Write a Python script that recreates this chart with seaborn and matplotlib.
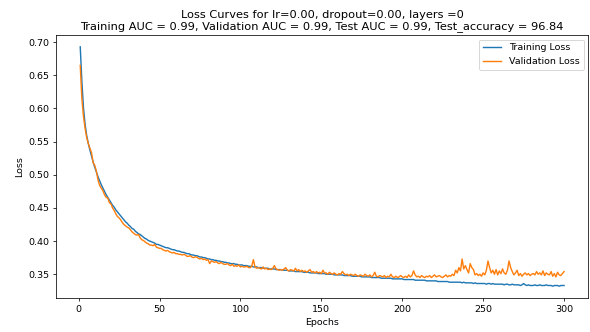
import numpy as np
import pandas as pd
import matplotlib
matplotlib.use("Agg")
import matplotlib.pyplot as plt
import seaborn as sns

# loss values, one per epoch (1..300)
train_loss = [
    0.693, 0.641, 0.601, 0.576, 0.559, 0.547, 0.537, 0.528, 0.519, 0.511,
    0.504, 0.497, 0.491, 0.485, 0.480, 0.475, 0.470, 0.466, 0.462, 0.458,
    0.454, 0.451, 0.447, 0.444, 0.441, 0.438, 0.435, 0.432, 0.429, 0.427,
    0.424, 0.422, 0.419, 0.418, 0.415, 0.413, 0.411, 0.410, 0.408, 0.406,
    0.404, 0.403, 0.401, 0.400, 0.399, 0.398, 0.397, 0.395, 0.395, 0.394,
    0.393, 0.392, 0.391, 0.390, 0.390, 0.389, 0.388, 0.387, 0.387, 0.386,
    0.385, 0.385, 0.384, 0.383, 0.383, 0.382, 0.381, 0.381, 0.380, 0.379,
    0.379, 0.378, 0.378, 0.377, 0.376, 0.376, 0.375, 0.375, 0.374, 0.373,
    0.373, 0.372, 0.372, 0.371, 0.371, 0.370, 0.370, 0.369, 0.369, 0.368,
    0.368, 0.367, 0.367, 0.366, 0.366, 0.366, 0.365, 0.365, 0.364, 0.364,
    0.364, 0.363, 0.363, 0.363, 0.362, 0.362, 0.362, 0.361, 0.361, 0.361,
    0.360, 0.360, 0.360, 0.359, 0.359, 0.359, 0.359, 0.358, 0.358, 0.358,
    0.358, 0.357, 0.357, 0.357, 0.357, 0.356, 0.356, 0.356, 0.356, 0.355,
    0.355, 0.355, 0.355, 0.354, 0.354, 0.354, 0.354, 0.354, 0.353, 0.353,
    0.353, 0.353, 0.352, 0.352, 0.352, 0.352, 0.352, 0.351, 0.351, 0.351,
    0.351, 0.351, 0.350, 0.350, 0.350, 0.350, 0.350, 0.349, 0.349, 0.349,
    0.349, 0.349, 0.349, 0.348, 0.348, 0.348, 0.348, 0.348, 0.347, 0.347,
    0.347, 0.347, 0.347, 0.347, 0.346, 0.346, 0.346, 0.346, 0.346, 0.346,
    0.345, 0.345, 0.345, 0.345, 0.345, 0.345, 0.344, 0.344, 0.344, 0.344,
    0.344, 0.344, 0.344, 0.343, 0.343, 0.343, 0.343, 0.343, 0.343, 0.343,
    0.342, 0.342, 0.342, 0.342, 0.342, 0.342, 0.342, 0.341, 0.341, 0.341,
    0.341, 0.341, 0.341, 0.341, 0.340, 0.340, 0.340, 0.340, 0.340, 0.340,
    0.340, 0.339, 0.339, 0.339, 0.339, 0.339, 0.339, 0.339, 0.338, 0.338,
    0.338, 0.338, 0.338, 0.338, 0.338, 0.338, 0.337, 0.338, 0.337, 0.337,
    0.337, 0.337, 0.337, 0.336, 0.337, 0.336, 0.336, 0.336, 0.336, 0.336,
    0.336, 0.335, 0.336, 0.336, 0.335, 0.336, 0.335, 0.335, 0.335, 0.335,
    0.335, 0.335, 0.334, 0.335, 0.335, 0.334, 0.334, 0.335, 0.334, 0.334,
    0.334, 0.334, 0.333, 0.334, 0.336, 0.334, 0.333, 0.334, 0.333, 0.333,
    0.333, 0.334, 0.333, 0.333, 0.334, 0.333, 0.333, 0.333, 0.334, 0.333,
    0.333, 0.333, 0.332, 0.333, 0.333, 0.333, 0.332, 0.333, 0.333, 0.333,
]

val_loss = [
    0.665, 0.615, 0.588, 0.570, 0.556, 0.547, 0.540, 0.533, 0.518, 0.514,
    0.505, 0.492, 0.484, 0.480, 0.476, 0.470, 0.466, 0.465, 0.458, 0.456,
    0.450, 0.446, 0.441, 0.437, 0.435, 0.432, 0.428, 0.425, 0.423, 0.421,
    0.420, 0.417, 0.414, 0.412, 0.410, 0.409, 0.410, 0.405, 0.402, 0.401,
    0.399, 0.397, 0.396, 0.394, 0.394, 0.393, 0.395, 0.391, 0.390, 0.389,
    0.389, 0.387, 0.386, 0.385, 0.386, 0.384, 0.383, 0.382, 0.383, 0.381,
    0.381, 0.380, 0.380, 0.379, 0.380, 0.379, 0.377, 0.377, 0.378, 0.376,
    0.375, 0.376, 0.376, 0.374, 0.373, 0.374, 0.372, 0.373, 0.371, 0.372,
    0.366, 0.370, 0.369, 0.368, 0.369, 0.367, 0.366, 0.368, 0.366, 0.365,
    0.365, 0.366, 0.364, 0.363, 0.365, 0.362, 0.363, 0.362, 0.364, 0.361,
    0.362, 0.361, 0.361, 0.362, 0.360, 0.360, 0.362, 0.372, 0.361, 0.359,
    0.360, 0.359, 0.358, 0.361, 0.358, 0.359, 0.357, 0.358, 0.357, 0.359,
    0.363, 0.358, 0.357, 0.356, 0.357, 0.356, 0.358, 0.360, 0.356, 0.355,
    0.357, 0.356, 0.355, 0.359, 0.355, 0.357, 0.354, 0.356, 0.354, 0.355,
    0.353, 0.355, 0.357, 0.353, 0.354, 0.352, 0.354, 0.352, 0.353, 0.351,
    0.356, 0.352, 0.352, 0.350, 0.353, 0.351, 0.350, 0.352, 0.350, 0.349,
    0.351, 0.350, 0.354, 0.351, 0.349, 0.350, 0.348, 0.350, 0.349, 0.348,
    0.350, 0.348, 0.347, 0.349, 0.348, 0.347, 0.350, 0.348, 0.347, 0.349,
    0.346, 0.348, 0.353, 0.347, 0.346, 0.348, 0.347, 0.346, 0.348, 0.345,
    0.347, 0.346, 0.350, 0.346, 0.345, 0.347, 0.345, 0.346, 0.348, 0.346,
    0.345, 0.347, 0.345, 0.349, 0.346, 0.348, 0.355, 0.349, 0.346, 0.347,
    0.345, 0.348, 0.346, 0.345, 0.347, 0.346, 0.348, 0.345, 0.347, 0.349,
    0.346, 0.347, 0.348, 0.346, 0.345, 0.347, 0.349, 0.346, 0.348, 0.347,
    0.350, 0.348, 0.356, 0.352, 0.360, 0.355, 0.373, 0.358, 0.363, 0.357,
    0.352, 0.366, 0.360, 0.357, 0.349, 0.351, 0.348, 0.350, 0.347, 0.352,
    0.349, 0.356, 0.370, 0.360, 0.352, 0.356, 0.350, 0.357, 0.349, 0.355,
    0.351, 0.358, 0.352, 0.350, 0.356, 0.370, 0.360, 0.354, 0.349, 0.352,
    0.356, 0.348, 0.351, 0.347, 0.350, 0.352, 0.349, 0.351, 0.348, 0.350,
    0.351, 0.349, 0.354, 0.350, 0.352, 0.349, 0.355, 0.348, 0.352, 0.350,
    0.349, 0.354, 0.347, 0.351, 0.346, 0.353, 0.349, 0.348, 0.351, 0.354,
]

epochs = list(range(1, len(train_loss) + 1))

title = ("Loss Curves for lr=0.00, dropout=0.00, layers =0\n"
         "Training AUC = 0.99, Validation AUC = 0.99, Test AUC = 0.99, Test_accuracy = 96.84")

df = pd.DataFrame({"Epochs": epochs, "train": train_loss, "val": val_loss})

DPI = 68
fig, ax = plt.subplots(figsize=(590 / DPI, 332 / DPI), dpi=DPI)
sns.lineplot(data=df, x="Epochs", y="train", ax=ax, color="#1f77b4", label="Training Loss")
sns.lineplot(data=df, x="Epochs", y="val", ax=ax, color="#ff7f0e", label="Validation Loss")

ax.set_title(title)
ax.set_xlabel("Epochs")
ax.set_ylabel("Loss")
ax.legend(loc="upper right")

fig.subplots_adjust(left=0.095, right=0.997, top=0.895, bottom=0.102)
fig.savefig("out.png", dpi=DPI)
plt.close(fig)
